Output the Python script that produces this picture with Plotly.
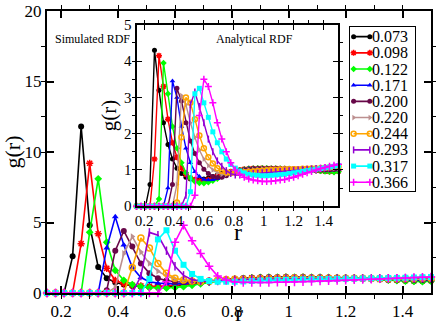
import plotly.graph_objects as go

# ---------------------------------------------------------------------------
# Data
# ---------------------------------------------------------------------------

R = [0.15, 0.18, 0.21, 0.24, 0.27, 0.30, 0.33, 0.36, 0.39, 0.42,
     0.45, 0.48, 0.51, 0.54, 0.57, 0.60, 0.63, 0.66, 0.69, 0.72,
     0.75, 0.78, 0.81, 0.84, 0.87, 0.90, 0.93, 0.96, 0.99, 1.02,
     1.05, 1.08, 1.11, 1.14, 1.17, 1.20, 1.23, 1.26, 1.29, 1.32,
     1.35, 1.38, 1.41, 1.44, 1.47, 1.50]

LABELS = ["0.073", "0.098", "0.122", "0.171", "0.200",
          "0.220", "0.244", "0.293", "0.317", "0.366"]

# simulated g(r), main panel
sim_073 = [0, 0, 0, 2.6, 11.8, 4.8, 1.85, 1.05, 0.75, 0.6, 0.5, 0.45, 0.42, 0.42, 0.45, 0.5, 0.58, 0.65, 0.72, 0.8, 0.88, 0.95,
           1.0, 1.05, 1.08, 1.1, 1.12, 1.1, 1.13, 1.12, 1.13, 1.1, 1.12, 1.1, 1.08, 1.08, 1.05, 1.03, 1.0, 0.97, 0.93, 0.9, 0.86, 0.84, 0.83, 0.86]
sim_098 = [0, 0, 0, 0, 3.5, 9.2, 4.2, 1.75, 0.9, 0.65, 0.55, 0.5, 0.48, 0.48, 0.5, 0.55, 0.6, 0.68, 0.75, 0.82, 0.9, 0.95,
           1.0, 1.03, 1.07, 1.08, 1.1, 1.1, 1.12, 1.1, 1.12, 1.1, 1.1, 1.08, 1.08, 1.05, 1.05, 1.02, 1.0, 0.97, 0.95, 0.92, 0.9, 0.88, 0.87, 0.9]
sim_122 = [0, 0, 0, 0, 0, 4.3, 8.1, 3.6, 1.6, 0.9, 0.6, 0.45, 0.38, 0.35, 0.35, 0.38, 0.45, 0.55, 0.65, 0.75, 0.85, 0.92,
           0.98, 1.03, 1.07, 1.1, 1.12, 1.12, 1.13, 1.13, 1.13, 1.12, 1.12, 1.1, 1.08, 1.07, 1.05, 1.02, 1.0, 0.96, 0.92, 0.88, 0.84, 0.82, 0.8, 0.84]
sim_171 = [0, 0, 0, 0, 0, 0, 0, 3.2, 5.4, 3.4, 1.8, 1.1, 0.8, 0.7, 0.65, 0.65, 0.68, 0.72, 0.78, 0.85, 0.9, 0.95,
           1.0, 1.05, 1.1, 1.12, 1.15, 1.13, 1.15, 1.13, 1.14, 1.12, 1.12, 1.1, 1.1, 1.08, 1.07, 1.05, 1.02, 1.0, 0.97, 0.95, 0.92, 0.9, 0.9, 0.92]
sim_200 = [0, 0, 0, 0, 0, 0, 0, 0.2, 3.0, 4.4, 3.3, 2.1, 1.4, 1.05, 0.88, 0.8, 0.78, 0.78, 0.8, 0.85, 0.9, 0.95,
           1.0, 1.03, 1.07, 1.1, 1.1, 1.12, 1.1, 1.12, 1.1, 1.1, 1.08, 1.08, 1.07, 1.05, 1.05, 1.03, 1.02, 1.0, 0.98, 0.96, 0.94, 0.93, 0.92, 0.94]
sim_220 = [0, 0, 0, 0, 0, 0, 0, 0, 0.4, 2.8, 4.0, 2.9, 2.1, 1.55, 1.2, 1.0, 0.9, 0.85, 0.85, 0.88, 0.9, 0.95,
           0.98, 1.0, 1.03, 1.05, 1.07, 1.08, 1.08, 1.1, 1.08, 1.08, 1.07, 1.07, 1.05, 1.05, 1.04, 1.03, 1.03, 1.02, 1.0, 1.0, 0.98, 0.97, 0.98, 1.0]
sim_244 = [0, 0, 0, 0, 0, 0, 0, 0, 0, 0, 1.8, 3.9, 3.2, 2.1, 1.4, 1.05, 0.92, 0.85, 0.82, 0.85, 0.9, 0.95,
           0.97, 0.98, 1.0, 1.02, 1.03, 1.05, 1.05, 1.06, 1.05, 1.05, 1.05, 1.05, 1.04, 1.04, 1.04, 1.04, 1.03, 1.03, 1.03, 1.02, 1.02, 1.03, 1.04, 1.05]
sim_293 = [0, 0, 0, 0, 0, 0, 0, 0, 0, 0, 0, 1.2, 4.3, 4.1, 3.0, 1.9, 1.25, 0.95, 0.85, 0.82, 0.85, 0.9,
           0.93, 0.95, 0.97, 0.98, 1.0, 1.0, 1.02, 1.02, 1.02, 1.03, 1.03, 1.03, 1.03, 1.03, 1.04, 1.04, 1.04, 1.05, 1.05, 1.05, 1.06, 1.06, 1.07, 1.08]
sim_317 = [0, 0, 0, 0, 0, 0, 0, 0, 0, 0, 0, 0, 1.0, 3.8, 4.45, 3.0, 2.0, 1.35, 1.0, 0.85, 0.8, 0.8,
           0.8, 0.82, 0.85, 0.88, 0.9, 0.92, 0.93, 0.95, 0.96, 0.97, 0.98, 0.99, 1.0, 1.01, 1.02, 1.03, 1.04, 1.05, 1.06, 1.07, 1.08, 1.1, 1.12, 1.13]
sim_366 = [0, 0, 0, 0, 0, 0, 0, 0, 0, 0, 0, 0, 0, 0, 0.8, 3.6, 4.8, 3.7, 2.8, 1.9, 1.2, 0.92,
           0.78, 0.75, 0.74, 0.74, 0.75, 0.76, 0.77, 0.78, 0.8, 0.82, 0.84, 0.86, 0.88, 0.9, 0.93, 0.95, 0.98, 1.0, 1.03, 1.05, 1.07, 1.1, 1.12, 1.14]

# analytical g(r), inset
ana_073 = [0, 0, 0, 0.6, 4.3, 3.2, 2.3, 1.7, 1.3, 1.05, 0.9, 0.8, 0.75, 0.73, 0.73, 0.75, 0.78, 0.82, 0.86, 0.9, 0.93, 0.96,
           0.98, 1.0, 1.02, 1.03, 1.04, 1.04, 1.04, 1.04, 1.03, 1.03, 1.03, 1.02, 1.02, 1.02, 1.01, 1.01, 1.0, 0.99, 0.98, 0.97, 0.96, 0.95, 0.95, 0.96]
ana_098 = [0, 0, 0, 0, 1.3, 4.15, 3.3, 2.4, 1.75, 1.35, 1.05, 0.88, 0.78, 0.73, 0.7, 0.7, 0.73, 0.77, 0.82, 0.87, 0.91, 0.95,
           0.98, 1.0, 1.02, 1.03, 1.04, 1.04, 1.05, 1.04, 1.04, 1.04, 1.03, 1.03, 1.02, 1.02, 1.02, 1.01, 1.0, 1.0, 0.99, 0.98, 0.97, 0.96, 0.96, 0.97]
ana_122 = [0, 0, 0, 0, 0, 0.2, 3.95, 3.1, 2.2, 1.6, 1.2, 0.92, 0.78, 0.68, 0.64, 0.63, 0.66, 0.7, 0.76, 0.82, 0.87, 0.92,
           0.96, 0.99, 1.01, 1.03, 1.04, 1.05, 1.05, 1.05, 1.04, 1.04, 1.04, 1.03, 1.03, 1.02, 1.02, 1.01, 1.0, 0.99, 0.98, 0.97, 0.96, 0.95, 0.94, 0.95]
ana_171 = [0, 0, 0, 0, 0, 0, 0, 0.5, 3.45, 3.0, 2.2, 1.6, 1.2, 0.95, 0.82, 0.74, 0.72, 0.73, 0.76, 0.8, 0.86, 0.92,
           0.97, 1.0, 1.02, 1.04, 1.05, 1.05, 1.05, 1.05, 1.05, 1.04, 1.04, 1.04, 1.03, 1.03, 1.02, 1.02, 1.01, 1.0, 1.0, 0.99, 0.99, 0.99, 1.0, 1.01]
ana_200 = [0, 0, 0, 0, 0, 0, 0, 0, 0.6, 3.25, 2.9, 2.3, 1.8, 1.45, 1.2, 1.02, 0.9, 0.82, 0.8, 0.8, 0.84, 0.9,
           0.95, 0.98, 1.0, 1.02, 1.03, 1.04, 1.04, 1.04, 1.04, 1.04, 1.04, 1.03, 1.03, 1.03, 1.02, 1.02, 1.01, 1.01, 1.0, 1.0, 1.0, 1.0, 1.01, 1.02]
ana_220 = [0, 0, 0, 0, 0, 0, 0, 0, 0, 0.6, 3.05, 2.8, 2.3, 1.9, 1.55, 1.3, 1.12, 1.0, 0.92, 0.88, 0.88, 0.9,
           0.93, 0.96, 0.98, 1.0, 1.01, 1.02, 1.03, 1.03, 1.03, 1.03, 1.03, 1.03, 1.03, 1.03, 1.02, 1.02, 1.02, 1.02, 1.02, 1.02, 1.02, 1.03, 1.04, 1.05]
ana_244 = [0, 0, 0, 0, 0, 0, 0, 0, 0, 0.1, 1.9, 3.0, 2.85, 2.4, 1.95, 1.6, 1.35, 1.18, 1.05, 0.98, 0.93, 0.92,
           0.92, 0.93, 0.94, 0.95, 0.96, 0.97, 0.98, 0.99, 1.0, 1.0, 1.01, 1.01, 1.02, 1.02, 1.02, 1.03, 1.03, 1.04, 1.04, 1.05, 1.06, 1.07, 1.08, 1.09]
ana_293 = [0, 0, 0, 0, 0, 0, 0, 0, 0, 0, 0, 0.3, 2.8, 3.15, 2.75, 2.3, 1.85, 1.5, 1.25, 1.1, 0.98, 0.9,
           0.86, 0.86, 0.87, 0.88, 0.9, 0.91, 0.92, 0.93, 0.94, 0.95, 0.96, 0.97, 0.98, 0.99, 1.0, 1.01, 1.02, 1.03, 1.04, 1.05, 1.06, 1.07, 1.08, 1.09]
ana_317 = [0, 0, 0, 0, 0, 0, 0, 0, 0, 0, 0, 0, 0.4, 3.1, 3.25, 2.85, 2.45, 2.05, 1.75, 1.5, 1.3, 1.15,
           1.05, 0.97, 0.92, 0.88, 0.86, 0.85, 0.84, 0.84, 0.85, 0.86, 0.87, 0.88, 0.9, 0.92, 0.94, 0.96, 0.98, 1.0, 1.02, 1.04, 1.06, 1.08, 1.1, 1.12]
ana_366 = [0, 0, 0, 0, 0, 0, 0, 0, 0, 0, 0, 0, 0, 0.3, 2.5, 3.5, 3.3, 2.85, 2.3, 1.85, 1.5, 1.2,
           1.0, 0.88, 0.8, 0.75, 0.72, 0.7, 0.68, 0.68, 0.69, 0.7, 0.72, 0.74, 0.77, 0.8, 0.84, 0.88, 0.92, 0.96, 1.0, 1.04, 1.07, 1.1, 1.13, 1.16]

SIM = [sim_073, sim_098, sim_122, sim_171, sim_200, sim_220, sim_244, sim_293, sim_317, sim_366]
ANA = [ana_073, ana_098, ana_122, ana_171, ana_200, ana_220, ana_244, ana_293, ana_317, ana_366]

# ---------------------------------------------------------------------------
# Styles
# ---------------------------------------------------------------------------

COLORS = ["#000000", "#ff0000", "#00ff00", "#0000ff", "#670748",
          "#bc8f8f", "#ffa500", "#9400d3", "#00ffff", "#ff00ff"]
SYMBOLS = ["circle", "asterisk-open", "diamond", "triangle-up", "circle",
           "triangle-right", "circle-open", "line-ns-open", "square", "cross-thin-open"]
OPEN = {"asterisk-open", "circle-open", "line-ns-open", "cross-thin-open"}

SERIF = "Liberation Serif, Times New Roman, serif"
LEG_X = [0.05, 0.30]  # legend sample line, in legend-box units


def marker(i, size):
    sym = SYMBOLS[i]
    if sym in OPEN:
        return dict(symbol=sym, size=size, color=COLORS[i],
                    line=dict(color=COLORS[i], width=1.5))
    return dict(symbol=sym, size=size, color=COLORS[i], line=dict(width=0))


fig = go.Figure()

# main panel: simulated
for i, lab in enumerate(LABELS):
    fig.add_trace(go.Scatter(
        x=R, y=SIM[i], xaxis="x", yaxis="y", mode="lines+markers",
        line=dict(color=COLORS[i], width=1.6), marker=marker(i, 6),
        cliponaxis=False, showlegend=False, name=lab))

# inset: analytical
for i, lab in enumerate(LABELS):
    fig.add_trace(go.Scatter(
        x=R, y=ANA[i], xaxis="x2", yaxis="y2", mode="lines+markers",
        line=dict(color=COLORS[i], width=1.4), marker=marker(i, 5),
        cliponaxis=False, showlegend=False, name=lab))

# hand-drawn legend box (xaxis3 / yaxis3)
for i, lab in enumerate(LABELS):
    fig.add_trace(go.Scatter(
        x=LEG_X, y=[i + 1, i + 1], xaxis="x3", yaxis="y3", mode="lines+markers",
        line=dict(color=COLORS[i], width=1.6), marker=marker(i, 5),
        cliponaxis=False, showlegend=False, hoverinfo="skip"))
    fig.add_annotation(x=0.31, y=i + 1, xref="x3", yref="y3", text=lab,
                       showarrow=False, xanchor="left", yanchor="middle",
                       font=dict(family=SERIF, size=16, color="black"))

axis_common = dict(showline=True, linecolor="black", mirror="ticks",
                   ticks="inside", tickcolor="black", showgrid=False,
                   zeroline=False)

fig.update_layout(
    width=436, height=327,
    margin=dict(l=47, r=3, t=7, b=34),
    paper_bgcolor="white", plot_bgcolor="white",
    font=dict(family=SERIF, color="black"),
    xaxis=dict(domain=[0, 1], range=[0.15, 1.5], anchor="y",
               tick0=0, dtick=0.2, ticklen=7, tickwidth=1.5, linewidth=2,
               minor=dict(dtick=0.1, ticklen=4, tickcolor="black", tickwidth=1),
               tickfont=dict(size=17), ticklabelstandoff=2, **axis_common),
    yaxis=dict(domain=[0, 1], range=[0, 20], anchor="x",
               tick0=0, dtick=5, ticklen=7, tickwidth=1.5, linewidth=2,
               minor=dict(dtick=2.5, ticklen=4, tickcolor="black", tickwidth=1),
               tickfont=dict(size=17),
               title=dict(text="g(r)", font=dict(size=22), standoff=2),
               **axis_common),
    xaxis2=dict(domain=[0.2332, 0.7591], range=[0.15, 1.5], anchor="y2",
                tick0=0, dtick=0.2, ticklen=5, tickwidth=1.2, linewidth=2,
                minor=dict(dtick=0.1, ticklen=3, tickcolor="black", tickwidth=1),
                tickfont=dict(size=15), **axis_common),
    yaxis2=dict(domain=[0.3077, 0.951], range=[0, 5], anchor="x2",
                tick0=0, dtick=1, ticklen=5, tickwidth=1.2, linewidth=2,
                minor=dict(dtick=0.5, ticklen=3, tickcolor="black", tickwidth=1),
                tickfont=dict(size=15),
                title=dict(text="g(r)", font=dict(size=21), standoff=2),
                **axis_common),
    xaxis3=dict(domain=[0.790, 0.959], range=[0, 1], anchor="y3",
                showline=True, mirror=True, linecolor="black", linewidth=1,
                showticklabels=False, ticks="", showgrid=False, zeroline=False),
    yaxis3=dict(domain=[0.360, 0.944], range=[10.57, 0.39], anchor="x3",
                showline=True, mirror=True, linecolor="black", linewidth=1,
                showticklabels=False, ticks="", showgrid=False, zeroline=False),
    annotations=list(fig.layout.annotations) + [
        dict(text="Simulated RDF", x=0.015, y=0.902, xref="paper", yref="paper",
             xanchor="left", yanchor="middle", showarrow=False,
             font=dict(family=SERIF, size=12, color="black")),
        dict(text="Analytical RDF", x=0.645, y=0.902, xref="paper", yref="paper",
             xanchor="right", yanchor="middle", showarrow=False,
             font=dict(family=SERIF, size=12, color="black")),
        # x-axis titles
        dict(text="r", x=0.5, y=-0.124, xref="paper", yref="paper",
             xanchor="center", yanchor="bottom", showarrow=False,
             font=dict(family=SERIF, size=24, color="black")),
        dict(text="r", x=0.4962, y=0.215, xref="paper", yref="paper",
             xanchor="center", yanchor="middle", showarrow=False,
             font=dict(family=SERIF, size=24, color="black")),
    ],
)

# page body has a default 8px margin; drop it so the figure sits at the corner
fig.write_html("out.html", config={"displayModeBar": False},
               post_script="document.body.style.margin='0px';")
